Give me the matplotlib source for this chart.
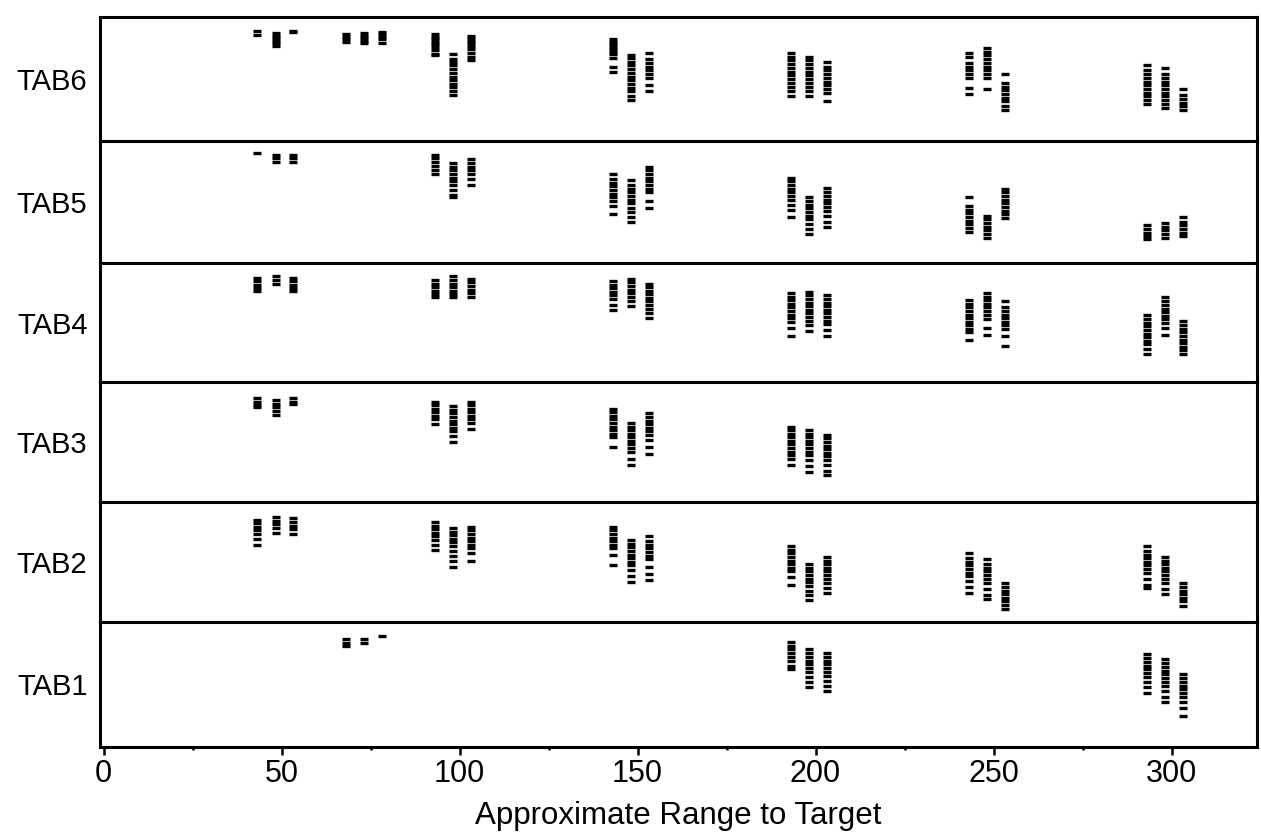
import numpy as np
import matplotlib
matplotlib.use('Agg')
import matplotlib.pyplot as plt
from matplotlib.ticker import MultipleLocator

# y inside each panel: 0 = bottom line, 10 = top line
# every range has 3 columns of points (drawn slightly left/on/right of the range)

tab6 = {
    50: [[8.9, 8.55], [8.7, 8.5, 8.3, 8.1, 7.9, 7.7], [8.9, 8.8]],
    75: [[8.6, 8.4, 8.2, 8.0], [8.7, 8.5, 8.3, 8.1, 7.9], [8.8, 8.6, 8.4, 8.2, 7.9]],
    100: [[8.6, 8.4, 8.2, 8.0, 7.8, 7.6, 7.3, 7.0, 6.9],
          [7.0, 6.6, 6.4, 6.1, 5.8, 5.5, 5.2, 4.9, 4.6, 4.4, 4.0, 3.7],
          [8.5, 8.3, 8.1, 7.9, 7.7, 7.4, 7.1, 6.8, 6.5]],
    150: [[8.2, 8.0, 7.8, 7.6, 7.4, 7.2, 7.0, 6.7, 6.0, 5.6],
          [6.9, 6.7, 6.4, 6.1, 5.8, 5.5, 5.2, 4.9, 4.6, 4.3, 4.0, 3.6, 3.3],
          [7.1, 6.6, 6.3, 6.0, 5.7, 5.4, 5.1, 4.5, 4.0]],
    200: [[7.1, 6.8, 6.5, 6.2, 5.9, 5.6, 5.3, 5.0, 4.7, 4.4, 4.0, 3.6],
          [6.8, 6.5, 6.2, 5.9, 5.6, 5.3, 5.0, 4.7, 4.4, 4.0, 3.6],
          [6.4, 6.0, 5.7, 5.4, 5.1, 4.8, 4.5, 4.2, 3.9, 3.2]],
    250: [[7.1, 6.8, 6.3, 6.0, 5.7, 5.4, 5.1, 4.3, 3.8],
          [7.5, 7.2, 6.9, 6.6, 6.3, 6.0, 5.7, 5.4, 5.1, 4.2],
          [5.4, 4.7, 4.4, 4.1, 3.8, 3.5, 3.2, 2.8, 2.5]],
    300: [[6.1, 5.7, 5.4, 5.1, 4.8, 4.5, 4.2, 3.9, 3.6, 3.3, 3.0],
          [5.9, 5.4, 5.1, 4.8, 4.5, 4.2, 3.9, 3.6, 3.3, 3.0, 2.7],
          [4.2, 3.7, 3.4, 3.1, 2.8, 2.5]],
}

tab5 = {
    50: [[9.0], [8.9, 8.6, 8.3], [8.9, 8.6, 8.3]],
    100: [[8.9, 8.6, 8.3, 8.0, 7.6, 7.3],
          [8.2, 7.9, 7.6, 7.3, 7.0, 6.7, 6.4, 6.0, 5.6, 5.4],
          [8.5, 8.2, 7.9, 7.6, 7.3, 6.9, 6.4]],
    150: [[7.3, 6.9, 6.6, 6.3, 6.0, 5.7, 5.4, 5.1, 4.7, 4.0],
          [6.8, 6.4, 6.1, 5.8, 5.5, 5.2, 4.9, 4.5, 4.2, 3.8, 3.4],
          [7.9, 7.6, 7.3, 7.0, 6.7, 6.4, 6.1, 5.8, 5.1, 4.5]],
    200: [[7.0, 6.7, 6.4, 6.1, 5.8, 5.5, 5.2, 4.8, 4.4, 3.8],
          [5.4, 5.1, 4.8, 4.5, 4.2, 3.9, 3.6, 3.2, 2.8, 2.4],
          [6.2, 5.8, 5.5, 5.2, 4.9, 4.6, 4.3, 3.9, 3.4, 3.0]],
    250: [[5.4, 4.7, 4.4, 4.1, 3.8, 3.5, 3.2, 2.9, 2.6],
          [3.9, 3.6, 3.3, 3.0, 2.7, 2.4, 2.1],
          [6.1, 5.8, 5.5, 5.2, 4.9, 4.6, 4.3, 4.0, 3.7]],
    300: [[3.1, 2.8, 2.5, 2.2, 2.0],
          [3.3, 3.0, 2.7, 2.4, 2.1],
          [3.8, 3.4, 3.1, 2.8, 2.5, 2.2]],
}

tab4 = {
    50: [[8.8, 8.5, 8.2, 7.9, 7.7], [8.9, 8.6, 8.3], [8.8, 8.5, 8.2, 7.9, 7.7]],
    100: [[8.6, 8.3, 8.0, 7.7, 7.4, 7.2],
          [8.9, 8.6, 8.3, 8.0, 7.7, 7.4, 7.2],
          [8.7, 8.4, 8.1, 7.8, 7.5, 7.2]],
    150: [[8.5, 8.2, 7.9, 7.6, 7.3, 7.0, 6.5, 6.1],
          [8.7, 8.4, 8.1, 7.8, 7.5, 7.2, 6.8, 6.4],
          [8.3, 8.0, 7.7, 7.4, 7.1, 6.8, 6.5, 6.2, 5.8, 5.4]],
    200: [[7.5, 7.2, 6.9, 6.6, 6.3, 6.0, 5.7, 5.4, 5.1, 4.6, 3.9],
          [7.6, 7.3, 7.0, 6.7, 6.4, 6.1, 5.8, 5.5, 5.2, 4.8, 4.3],
          [7.3, 7.0, 6.7, 6.4, 6.1, 5.8, 5.5, 5.2, 4.9, 4.4, 3.9]],
    250: [[6.9, 6.6, 6.3, 6.0, 5.7, 5.4, 5.1, 4.8, 4.5, 4.2, 3.6],
          [7.5, 7.2, 6.9, 6.6, 6.3, 6.0, 5.7, 5.3, 4.6, 4.0],
          [6.8, 6.3, 6.0, 5.7, 5.4, 5.1, 4.8, 4.5, 3.9, 3.1]],
    300: [[5.7, 5.3, 5.0, 4.7, 4.4, 4.1, 3.8, 3.5, 3.2, 2.8, 2.4],
          [7.2, 6.8, 6.5, 6.2, 5.9, 5.6, 5.3, 5.0, 4.6, 4.0],
          [5.2, 4.8, 4.5, 4.2, 3.9, 3.6, 3.3, 3.0, 2.7, 2.4]],
}

tab3 = {
    50: [[8.7, 8.4, 8.1, 7.9], [8.5, 8.2, 7.9, 7.6, 7.3], [8.7, 8.4, 8.2]],
    100: [[8.4, 8.1, 7.8, 7.5, 7.2, 6.9, 6.5],
          [8.0, 7.7, 7.4, 7.1, 6.8, 6.5, 6.2, 5.9, 5.5, 5.0],
          [8.4, 8.1, 7.8, 7.5, 7.2, 6.9, 6.6, 6.1]],
    150: [[7.8, 7.5, 7.2, 6.9, 6.6, 6.3, 6.0, 5.7, 5.4, 4.6],
          [6.6, 6.3, 6.0, 5.7, 5.4, 5.1, 4.8, 4.5, 4.2, 3.6, 3.1],
          [7.4, 7.1, 6.8, 6.5, 6.2, 5.9, 5.6, 5.2, 4.6, 4.0]],
    200: [[6.3, 6.0, 5.7, 5.4, 5.1, 4.8, 4.5, 4.2, 3.9, 3.6, 3.1],
          [6.0, 5.7, 5.4, 5.1, 4.8, 4.5, 4.2, 3.9, 3.5, 3.0, 2.5],
          [5.6, 5.3, 5.0, 4.7, 4.4, 4.1, 3.8, 3.5, 3.1, 2.6, 2.2]],
}

tab2 = {
    50: [[8.5, 8.2, 7.9, 7.6, 7.3, 6.9, 6.4], [8.7, 8.4, 8.1, 7.8, 7.4], [8.6, 8.3, 8.0, 7.7, 7.3]],
    100: [[8.3, 8.0, 7.7, 7.4, 7.1, 6.8, 6.4, 6.0],
          [7.8, 7.5, 7.2, 6.9, 6.6, 6.3, 5.9, 5.5, 5.1, 4.6],
          [7.9, 7.6, 7.3, 7.0, 6.7, 6.4, 6.1, 5.7, 5.1]],
    150: [[7.9, 7.6, 7.3, 7.0, 6.7, 6.4, 6.1, 5.6, 4.7],
          [6.8, 6.5, 6.2, 5.9, 5.6, 5.3, 5.0, 4.7, 4.3, 3.8, 3.3],
          [7.1, 6.7, 6.4, 6.1, 5.8, 5.5, 5.2, 4.6, 4.0, 3.5]],
    200: [[6.3, 6.0, 5.7, 5.4, 5.1, 4.8, 4.5, 4.2, 3.7, 3.1],
          [4.8, 4.5, 4.2, 3.9, 3.6, 3.3, 3.0, 2.6, 2.2, 1.8],
          [5.4, 5.1, 4.8, 4.5, 4.2, 3.9, 3.6, 3.2, 2.8, 2.4]],
    250: [[5.7, 5.3, 5.0, 4.7, 4.4, 4.1, 3.8, 3.4, 2.9, 2.4],
          [5.2, 4.8, 4.5, 4.2, 3.9, 3.6, 3.2, 2.7, 2.2, 1.9],
          [3.2, 2.9, 2.6, 2.3, 2.0, 1.7, 1.4, 1.1]],
    300: [[6.3, 5.9, 5.6, 5.3, 5.0, 4.7, 4.4, 4.1, 3.6, 3.1, 2.8],
          [5.4, 5.1, 4.8, 4.5, 4.2, 3.9, 3.6, 3.2, 2.7, 2.3],
          [3.2, 2.9, 2.6, 2.3, 2.0, 1.7, 1.3]],
}

tab1 = {
    75: [[8.6, 8.3, 8.1], [8.6, 8.3], [8.9]],
    200: [[8.4, 8.1, 7.8, 7.5, 7.2, 6.9, 6.5, 6.2],
          [7.8, 7.5, 7.2, 6.9, 6.6, 6.3, 6.0, 5.6, 5.2, 4.8],
          [7.5, 7.2, 6.9, 6.6, 6.3, 6.0, 5.7, 5.3, 4.9, 4.5]],
    300: [[7.4, 7.1, 6.8, 6.5, 6.2, 5.9, 5.6, 5.2, 4.8, 4.3],
          [7.0, 6.7, 6.4, 6.1, 5.8, 5.5, 5.2, 4.9, 4.5, 4.0, 3.6],
          [5.8, 5.5, 5.2, 4.9, 4.6, 4.3, 4.0, 3.6, 3.1, 2.5]],
}

panels = [tab6, tab5, tab4, tab3, tab2, tab1]
names = ['TAB6', 'TAB5', 'TAB4', 'TAB3', 'TAB2', 'TAB1']
offsets = [-6.8, -1.7, 3.3]

plt.rcParams['font.family'] = ['Liberation Sans', 'DejaVu Sans']

fig = plt.figure(figsize=(12.61, 8.36), dpi=100)
axs = fig.subplots(6, 1, sharex=True,
                   gridspec_kw=dict(hspace=0, height_ratios=[124, 122, 119, 119, 120, 125]))
fig.subplots_adjust(left=0.0793, right=0.9968, top=0.9797, bottom=0.1065)

for ax, d, name in zip(axs, panels, names):
    for rng, cols in d.items():
        for off, ys in zip(offsets, cols):
            ax.plot(np.full(len(ys), rng + off), ys, ls='none', marker='_',
                    ms=5.5, mew=2.4, color='k')
    ax.set_ylim(0, 10)
    ax.set_yticks([5])
    ax.set_yticklabels([name], fontsize=21)
    ax.tick_params(axis='y', length=0, pad=9)
    ax.tick_params(axis='x', bottom=False, which='both')
    for s in ax.spines.values():
        s.set_linewidth(2.2)

ax = axs[-1]
ax.set_xlim(-1, 324)
ax.xaxis.set_major_locator(MultipleLocator(50))
ax.xaxis.set_minor_locator(MultipleLocator(25))
ax.tick_params(axis='x', which='major', bottom=True, direction='out', length=6, width=1.8,
               labelsize=22, pad=3)
ax.tick_params(axis='x', which='minor', bottom=True, direction='out', length=2.5, width=1.8)
ax.set_xlabel('Approximate Range to Target', fontsize=22.5, labelpad=8)

fig.savefig('out.png', dpi=100)
